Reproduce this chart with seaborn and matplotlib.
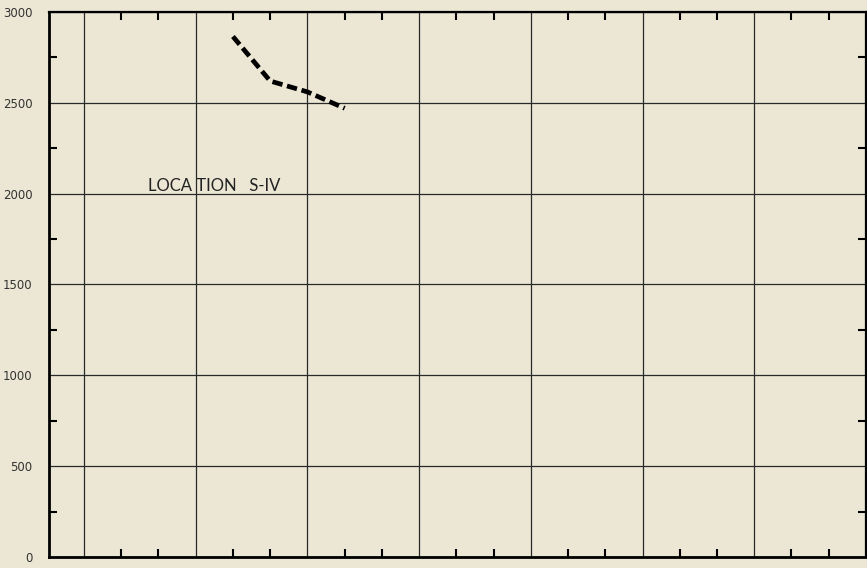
import matplotlib
matplotlib.use("Agg")
import matplotlib.pyplot as plt
import matplotlib.transforms as mtransforms
import seaborn as sns
import pandas as pd
from matplotlib.ticker import MultipleLocator

# Data (x in minor-grid units; majors every 3 units)
x_vals = [4, 5, 6, 7]
y_vals = [2865, 2620, 2560, 2470]
y_ticks = [0, 500, 1000, 1500, 2000, 2500, 3000]
y_labels = ["0", "500", "1000", "1500", "2000", "2500", "3000"]
annotation = "LOCA TION   S-IV"

bg = "#ebe7d4"
sns.set_style("white")
plt.rcParams["font.family"] = ["DejaVu Sans"]

fig = plt.figure(figsize=(8.67, 5.68), dpi=100, facecolor=bg)
ax = fig.add_axes([0.0565, 0.0194, 0.9423, 0.9595])
ax.set_facecolor(bg)

df = pd.DataFrame({"x": x_vals, "y": y_vals})
sns.lineplot(data=df, x="x", y="y", ax=ax, color="black", lw=3.4,
             linestyle=(0, (2.2, 1.0)), legend=False)

ax.set_xlim(-0.94, 21)
ax.set_ylim(0, 3000)

ax.set_yticks(y_ticks)
ax.set_yticklabels(y_labels, fontsize=8.5, color="#333333")
ax.yaxis.set_minor_locator(MultipleLocator(250))
ax.xaxis.set_major_locator(MultipleLocator(3))
ax.xaxis.set_minor_locator(MultipleLocator(1))
ax.set_xticklabels([])
ax.set_xlabel("")
ax.set_ylabel("")

offset = mtransforms.ScaledTranslation(0, -3 / 100, fig.dpi_scale_trans)
for lab in ax.get_yticklabels():
    lab.set_transform(lab.get_transform() + offset)

ax.grid(True, which="major", color="#2a2a2a", lw=0.9)
ax.tick_params(axis="both", which="major", direction="in", length=0,
               left=True, right=True, top=True, bottom=True)
ax.tick_params(axis="y", which="major", pad=12)
ax.tick_params(axis="both", which="minor", direction="in", length=6, width=1.5,
               color="black", left=True, right=True, top=True, bottom=True)

for side, lw in [("left", 2.0), ("bottom", 2.0), ("top", 1.6), ("right", 1.6)]:
    ax.spines[side].set_visible(True)
    ax.spines[side].set_color("black")
    ax.spines[side].set_linewidth(lw)

ax.text(1.72, 2012, annotation, fontsize=12, color="#222222",
        ha="left", va="baseline", family=["Lato", "DejaVu Sans"])

fig.savefig("out.png", dpi=100, facecolor=bg)
